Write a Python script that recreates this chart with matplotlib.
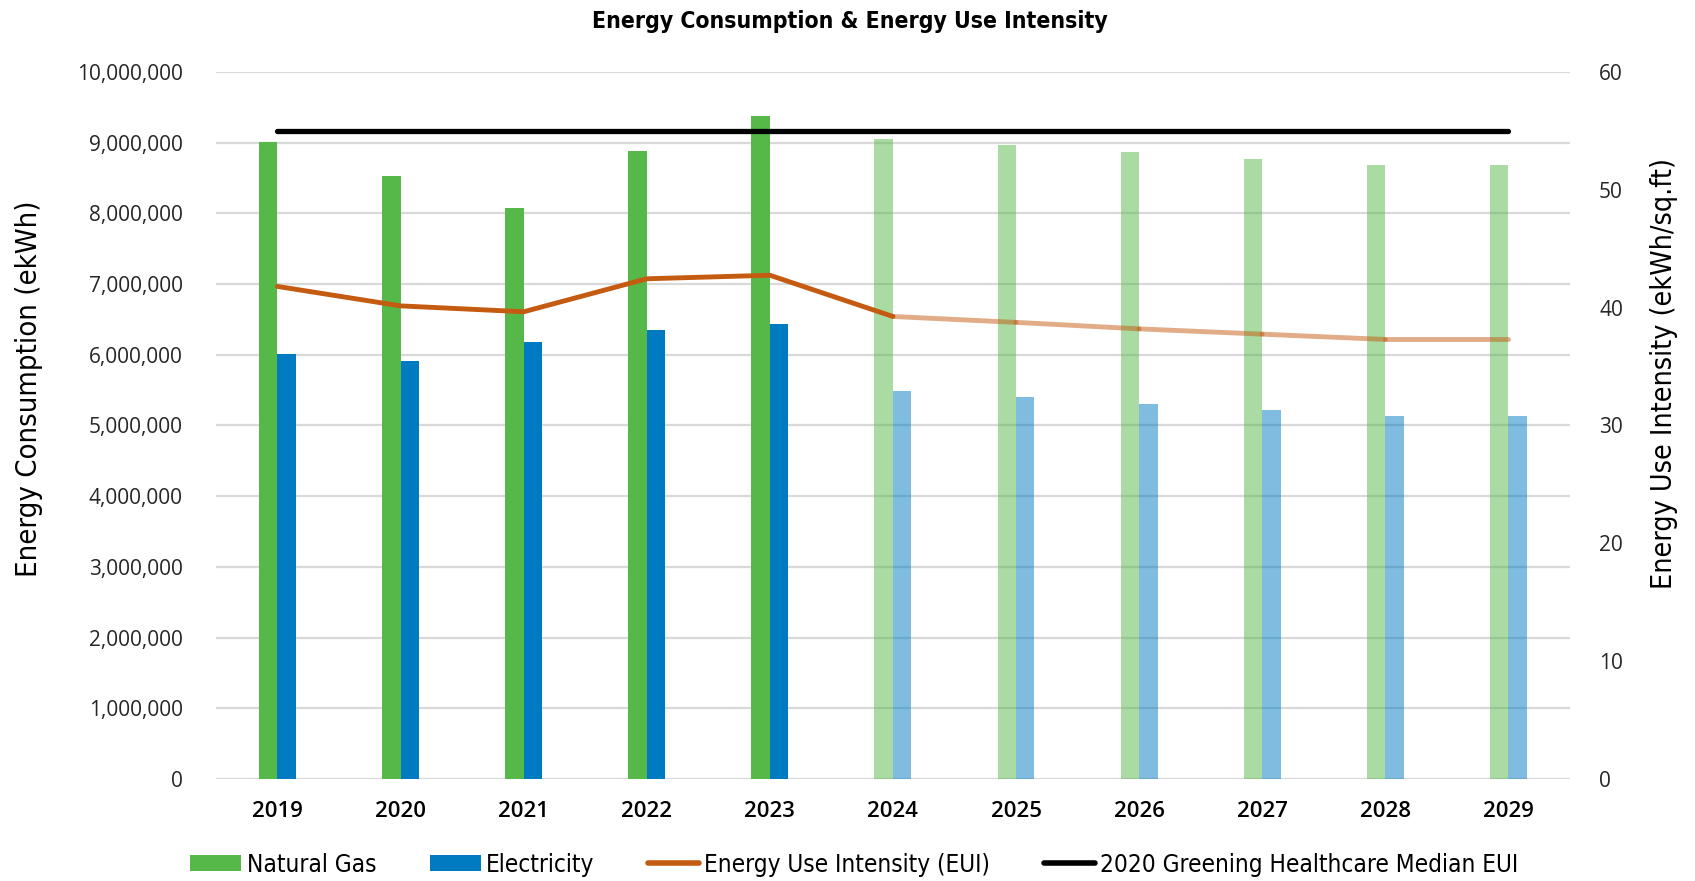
import matplotlib
matplotlib.use("Agg")
import matplotlib.pyplot as plt
from matplotlib.lines import Line2D
from matplotlib.patches import Patch
from matplotlib.ticker import FuncFormatter

# values (2024 onward are projections)
years = [2019, 2020, 2021, 2022, 2023, 2024, 2025, 2026, 2027, 2028, 2029]
natural_gas = [9010000, 8530000, 8075000, 8885000, 9380000, 9050000,
               8965000, 8865000, 8770000, 8685000, 8685000]
electricity = [6015000, 5905000, 6175000, 6350000, 6430000, 5490000,
               5405000, 5305000, 5220000, 5135000, 5135000]
eui = [41.8, 40.15, 39.65, 42.45, 42.75, 39.25, 38.75, 38.2, 37.75, 37.3, 37.3]
median_eui = 55
first_projected = 5  # index of 2024

GREEN = "#55B849"
BLUE = "#007BC2"
ORANGE = "#C55A11"
GRID = "#D9D9D9"

NARROW = ["DejaVu Sans", "Liberation Sans"]
TICKFONT = ["Open Sans", "DejaVu Sans"]

fig = plt.figure(figsize=(16.95, 8.81), dpi=100)
ax = fig.add_axes([0.1274, 0.1158, 0.7988, 0.8025])
ax2 = ax.twinx()

x = list(range(len(years)))
w = 0.15
for i in x:
    a = 1.0 if i < first_projected else 0.5
    ax.bar(i - w / 2, natural_gas[i], width=w, color=GREEN, alpha=a, zorder=3)
    ax.bar(i + w / 2, electricity[i], width=w, color=BLUE, alpha=a, zorder=3)

ax.set_xlim(-0.5, len(years) - 0.5)
ax.set_ylim(0, 10000000)
ax.set_yticks(range(0, 10000001, 1000000))
ax.yaxis.set_major_formatter(FuncFormatter(lambda v, p: f"{int(v):,}"))
ax.set_xticks(x)
ax.set_xticklabels([str(y) for y in years])
ax.grid(axis="y", color=GRID, linewidth=1.6, zorder=0)
ax.set_axisbelow(True)
ax.tick_params(axis="y", length=0, pad=24, labelsize=15)
ax.tick_params(axis="x", length=0, pad=16, labelsize=16)
for lab in ax.get_yticklabels():
    lab.set_family(TICKFONT)
    lab.set_color("#262626")
for lab in ax.get_xticklabels():
    lab.set_family(TICKFONT)
    lab.set_fontweight("semibold")

for sp in ax.spines.values():
    sp.set_visible(False)
for sp in ax2.spines.values():
    sp.set_visible(False)

# EUI line: solid for actuals, faded segments for projections
ax2.plot(x[:first_projected + 1], eui[:first_projected + 1], color=ORANGE,
         linewidth=3.5, solid_capstyle="round", solid_joinstyle="round", zorder=4)
for i in range(first_projected, len(x) - 1):
    ax2.plot(x[i:i + 2], eui[i:i + 2], color=ORANGE, alpha=0.5, linewidth=3.5,
             solid_capstyle="round", zorder=4)
ax2.plot([x[0], x[-1]], [median_eui, median_eui], color="black", linewidth=3.8,
         solid_capstyle="round", zorder=5)

ax2.set_ylim(0, 60)
ax2.set_yticks(range(0, 61, 10))
ax2.tick_params(axis="y", length=0, pad=21, labelsize=15)
for lab in ax2.get_yticklabels():
    lab.set_family(TICKFONT)
    lab.set_color("#262626")

fig.text(0.5015, 0.9755, "Energy Consumption & Energy Use Intensity",
         ha="center", va="center", fontsize=16.5, fontweight="bold",
         family=NARROW, fontstretch="condensed")
fig.text(0.0171, 0.5585, "Energy Consumption (ekWh)", rotation=90,
         ha="center", va="center", fontsize=21, family=NARROW,
         fontstretch="condensed")
fig.text(0.982, 0.5755, "Energy Use Intensity (ekWh/sq.ft)", rotation=90,
         ha="center", va="center", fontsize=20.5, family=NARROW,
         fontstretch="condensed")

handles = [
    Patch(facecolor=GREEN, label="Natural Gas"),
    Patch(facecolor=BLUE, label="Electricity"),
    Line2D([], [], color=ORANGE, linewidth=4, solid_capstyle="round",
           label="Energy Use Intensity (EUI)"),
    Line2D([], [], color="black", linewidth=4, solid_capstyle="round",
           label="2020 Greening Healthcare Median EUI"),
]
fig.legend(handles=handles, loc="center", bbox_to_anchor=(0.504, 0.0185),
           ncol=4, frameon=False, handlelength=2.1, handleheight=0.65,
           handletextpad=0.22, columnspacing=2.2,
           prop={"family": NARROW, "size": 17.5, "stretch": "condensed"})

fig.savefig("out.png", dpi=100)
